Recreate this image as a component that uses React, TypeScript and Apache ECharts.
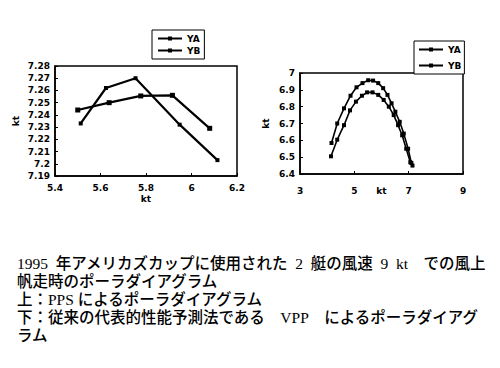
import React, { useEffect, useRef } from "react";
import * as echarts from "echarts";

const seriesNames = ["YA", "YB"];

// Left chart (PPS)
const leftYA_x = [5.513, 5.624, 5.754, 5.948, 6.114];
const leftYA_y = [7.233, 7.262, 7.27, 7.232, 7.203];
const leftYB_x = [5.5, 5.638, 5.777, 5.916, 6.08];
const leftYB_y = [7.244, 7.25, 7.2555, 7.256, 7.229];

// Right chart (VPP)
const rightYA_x = [4.16, 4.37, 4.62, 4.86, 5.08, 5.3, 5.51, 5.69, 5.88, 6.06, 6.22, 6.37, 6.51, 6.67, 6.82, 6.98, 7.1];
const rightYA_y = [6.584, 6.7, 6.79, 6.865, 6.915, 6.94, 6.957, 6.955, 6.94, 6.91, 6.87, 6.82, 6.77, 6.71, 6.64, 6.55, 6.465];
const rightYB_x = [4.14, 4.37, 4.62, 4.84, 5.06, 5.28, 5.47, 5.67, 5.88, 6.08, 6.27, 6.45, 6.61, 6.76, 6.91, 7.06, 7.14];
const rightYB_y = [6.505, 6.604, 6.69, 6.778, 6.83, 6.865, 6.885, 6.885, 6.87, 6.84, 6.8, 6.75, 6.69, 6.63, 6.55, 6.47, 6.45];

const captionLines = [
  "1995\u2002年アメリカズカップに使用された\u20022\u2002艇の風速\u20029\u2002kt\u2003での風上",
  "帆走時のポーラダイアグラム",
  "上：PPS によるポーラダイアグラム",
  "下：従来の代表的性能予測法である\u2003VPP\u2003によるポーラダイアグ",
  "ラム",
];

const zip = (xs: number[], ys: number[]) => xs.map((x, i) => [x, ys[i]]);

export default function App() {
  const ref = useRef<HTMLDivElement>(null);
  useEffect(() => {
    if (!ref.current) return;
    const chart = echarts.init(ref.current, null, { renderer: "svg" });
    const axisFont = { color: "#000", fontSize: 9, fontWeight: "bold" as const, fontFamily: "DejaVu Sans, sans-serif" };
    const axisCommon = {
      axisLine: { show: true, lineStyle: { color: "#000", width: 1.5 } },
      axisTick: { show: true, inside: true, length: 3, lineStyle: { color: "#000" } },
      splitLine: { show: false },
      axisLabel: { ...axisFont },
      nameTextStyle: { ...axisFont },
      nameMoveOverlap: false,
    };
    const legendCommon = {
      orient: "vertical" as const,
      data: seriesNames,
      borderColor: "#000",
      borderWidth: 1,
      itemWidth: 24,
      itemHeight: 5,
      textStyle: { ...axisFont },
      backgroundColor: "#fff",
    };
    chart.setOption({
      animation: false,
      backgroundColor: "#fff",
      grid: [
        { left: 55, top: 66, width: 182, height: 110, show: true, borderColor: "#000", borderWidth: 1.5 },
        { left: 300, top: 73, width: 163, height: 101, show: true, borderColor: "#000", borderWidth: 1.5 },
      ],
      xAxis: [
        { ...axisCommon, type: "value", gridIndex: 0, min: 5.4, max: 6.2, interval: 0.2, name: "kt", nameLocation: "middle", nameGap: 18, axisLabel: { ...axisFont, margin: 7 } },
        { ...axisCommon, type: "value", gridIndex: 1, min: 3, max: 9, interval: 2, name: "kt", nameLocation: "middle", nameGap: 12, axisLabel: { ...axisFont, margin: 12 } },
      ],
      yAxis: [
        { ...axisCommon, type: "value", gridIndex: 0, min: 7.19, max: 7.28, interval: 0.01, name: "kt", nameLocation: "middle", nameGap: 35, axisLabel: { ...axisFont, margin: 5 } },
        { ...axisCommon, type: "value", gridIndex: 1, min: 6.4, max: 7, interval: 0.1, name: "kt", nameLocation: "middle", nameGap: 30, axisLabel: { ...axisFont, margin: 5 } },
      ],
      legend: [
        { ...legendCommon, left: 152, top: 30, padding: [4, 4, 4, 5], itemGap: 3 },
        { ...legendCommon, left: 414, top: 41, padding: [4, 3, 4, 4], itemGap: 7 },
      ],
      series: [
        { name: "YA", type: "line", xAxisIndex: 0, yAxisIndex: 0, data: zip(leftYA_x, leftYA_y), symbol: "rect", symbolSize: 4, lineStyle: { color: "#000", width: 2.2 }, itemStyle: { color: "#000" } },
        { name: "YB", type: "line", xAxisIndex: 0, yAxisIndex: 0, data: zip(leftYB_x, leftYB_y), symbol: "rect", symbolSize: 5, lineStyle: { color: "#000", width: 2.2 }, itemStyle: { color: "#000" } },
        { name: "YA", type: "line", xAxisIndex: 1, yAxisIndex: 1, data: zip(rightYA_x, rightYA_y), symbol: "rect", symbolSize: 4, lineStyle: { color: "#000", width: 1.6 }, itemStyle: { color: "#000" } },
        { name: "YB", type: "line", xAxisIndex: 1, yAxisIndex: 1, data: zip(rightYB_x, rightYB_y), symbol: "rect", symbolSize: 4, lineStyle: { color: "#000", width: 1.6 }, itemStyle: { color: "#000" } },
      ],
      graphic: captionLines.map((t, i) => ({
        type: "text",
        left: 17,
        top: 256 + i * 18,
        style: {
          text: t,
          fill: "#000",
          fontSize: 15.5,
          fontWeight: 500,
          fontFamily: "Liberation Serif, Noto Sans CJK JP, serif",
        },
      })),
    });
    return () => chart.dispose();
  }, []);
  return (
    <div
      ref={ref}
      style={{ position: "absolute", left: 0, top: 0, width: 500, height: 368, background: "#fff" }}
    />
  );
}
